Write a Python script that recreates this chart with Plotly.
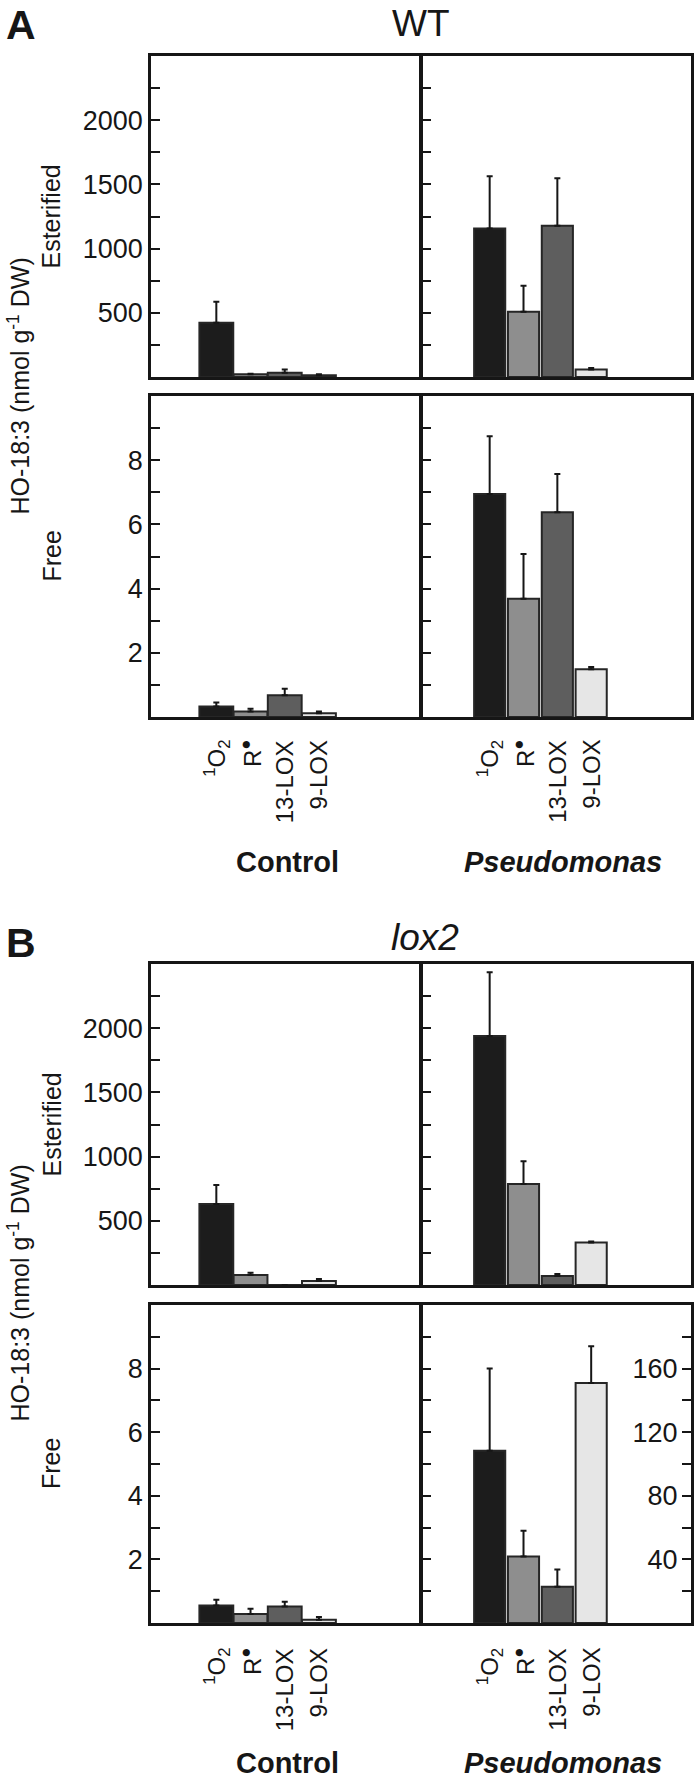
import plotly.graph_objects as go

# ---------------- data ----------------
categories = ["<sup>1</sup>O<sub>2</sub>", "R<sup>●</sup>", "13-LOX", "9-LOX"]
conditions = ["Control", "Pseudomonas"]

wt_est_control = [422, 21, 34, 13]
wt_est_control_err = [164, 5, 24, 8]
wt_est_pseudo = [1156, 508, 1177, 58]
wt_est_pseudo_err = [407, 203, 370, 12]

wt_free_control = [0.33, 0.17, 0.68, 0.12]
wt_free_control_err = [0.12, 0.09, 0.20, 0.05]
wt_free_pseudo = [6.95, 3.68, 6.38, 1.49]
wt_free_pseudo_err = [1.80, 1.40, 1.19, 0.07]

lox2_est_control = [630, 78, 0, 31]
lox2_est_control_err = [149, 18, 0, 16]
lox2_est_pseudo = [1940, 787, 70, 331]
lox2_est_pseudo_err = [495, 176, 16, 8]

lox2_free_control = [0.55, 0.28, 0.52, 0.10]
lox2_free_control_err = [0.18, 0.17, 0.15, 0.09]
# first three on left axis (0-10), 9-LOX on right axis (0-200)
lox2_free_pseudo = [5.42, 2.09, 1.14]
lox2_free_pseudo_err = [2.58, 0.81, 0.54]
lox2_free_pseudo_9lox = [151]
lox2_free_pseudo_9lox_err = [23]

est_major = [500, 1000, 1500, 2000]
est_minor = [250, 750, 1250, 1750, 2250]
free_major = [2, 4, 6, 8]
free_minor = [1, 3, 5, 7, 9]
right_major = [40, 80, 120, 160]
right_minor = [20, 60, 100, 140, 180]

bar_colors = ["#1c1c1c", "#8e8e8e", "#5e5e5e", "#e6e6e6"]

# ---------------- layout helpers ----------------
W, H = 697, 1782
FONT = "Liberation Sans, Arial, sans-serif"
INK = "#161616"
LW = 2.5
cols = [(151, 422 - LW), (422, 691)]
rows = [(56, 377), (396, 717), (964, 1285), (1305, 1623)]
xranges = [(-1.91, 5.94), (-2.0, 5.95)]
bar_w = [0.99, 0.92]


def name(kind, k):
    return kind if k == 1 else f"{kind}{k}"


fig = go.Figure()
layout = {}

panel_data = {
    (0, 0): (wt_est_control, wt_est_control_err),
    (0, 1): (wt_est_pseudo, wt_est_pseudo_err),
    (1, 0): (wt_free_control, wt_free_control_err),
    (1, 1): (wt_free_pseudo, wt_free_pseudo_err),
    (2, 0): (lox2_est_control, lox2_est_control_err),
    (2, 1): (lox2_est_pseudo, lox2_est_pseudo_err),
    (3, 0): (lox2_free_control, lox2_free_control_err),
    (3, 1): (lox2_free_pseudo, lox2_free_pseudo_err),
}

tick_font = dict(size=27, color=INK, family=FONT)

for r in range(4):
    for c in range(2):
        k = r * 2 + c + 1
        x0, x1 = cols[c]
        y0, y1 = rows[r]
        est = r in (0, 2)
        layout[name("xaxis", k)] = dict(
            domain=[x0 / W, x1 / W], anchor=name("y", k), range=list(xranges[c]),
            showline=True, mirror=True, linecolor=INK, linewidth=LW,
            ticks="", showticklabels=False, showgrid=False, zeroline=False,
        )
        layout[name("yaxis", k)] = dict(
            domain=[1 - y1 / H, 1 - y0 / H], anchor=name("x", k),
            range=[0, 2500] if est else [0, 10],
            showline=True, mirror=True, linecolor=INK, linewidth=LW,
            ticks="inside", ticklen=9, tickwidth=2, tickcolor=INK,
            tickmode="array", tickvals=est_major if est else free_major,
            minor=dict(tickmode="array", tickvals=est_minor if est else free_minor,
                       ticks="inside", ticklen=9, tickwidth=2, tickcolor=INK, showgrid=False),
            showticklabels=(c == 0),
            tickfont=tick_font,
            showgrid=False, zeroline=False,
        )
        vals, errs = panel_data[(r, c)]
        n = len(vals)
        fig.add_trace(go.Bar(
            x=list(range(n)), y=vals, width=bar_w[c],
            marker=dict(color=bar_colors[:n], line=dict(color="#262626", width=2)),
            error_y=dict(type="data", symmetric=False, array=errs, arrayminus=[0] * n,
                         color=INK, thickness=2, width=3),
            xaxis=name("x", k), yaxis=name("y", k), showlegend=False,
        ))

# right axis for 9-LOX in lox2 free Pseudomonas panel
layout["yaxis9"] = dict(
    overlaying="y8", side="right", anchor="x8", range=[0, 200],
    showline=True, linecolor=INK, linewidth=LW,
    ticks="inside", ticklen=9, tickwidth=2, tickcolor=INK,
    tickmode="array", tickvals=right_major,
    minor=dict(tickmode="array", tickvals=right_minor, ticks="inside",
               ticklen=9, tickwidth=2, tickcolor=INK, showgrid=False),
    ticklabelposition="inside", ticklabelstandoff=7,
    tickfont=tick_font,
    showgrid=False, zeroline=False,
)
fig.add_trace(go.Bar(
    x=[3], y=lox2_free_pseudo_9lox, width=bar_w[1],
    marker=dict(color=bar_colors[3], line=dict(color="#262626", width=2)),
    error_y=dict(type="data", symmetric=False, array=lox2_free_pseudo_9lox_err,
                 arrayminus=[0], color=INK, thickness=2, width=3),
    xaxis="x8", yaxis="y9", showlegend=False,
))

annotations = []


def ann(text, x, y, size, xanchor="center", yanchor="middle", angle=0, xref="paper"):
    annotations.append(dict(
        text=text, x=x, y=y, xref=xref, yref="paper", showarrow=False,
        xanchor=xanchor, yanchor=yanchor, textangle=angle,
        font=dict(size=size, color=INK, family=FONT),
    ))


# part labels and titles
ann("<b>A</b>", 4 / W, 1 - 0 / H, 41, xanchor="left", yanchor="top")
ann("WT", 421 / W, 1 - 1 / H, 37, yanchor="top")
ann("<b>B</b>", 4 / W, 1 - 918 / H, 41, xanchor="left", yanchor="top")
ann("<i>lox2</i>", 425 / W, 1 - 915 / H, 37, yanchor="top")

# y titles
for top, bot_est, free_c in [((56 + 717) / 2, (56 + 377) / 2, (396 + 717) / 2),
                              ((964 + 1623) / 2, (964 + 1285) / 2, (1305 + 1623) / 2)]:
    ann("HO-18:3 (nmol g<sup>-1</sup> DW)", 18 / W, 1 - top / H, 25, angle=-90)
    ann("Esterified", 51 / W, 1 - bot_est / H, 25, angle=-90)
    ann("Free", 51 / W, 1 - free_c / H, 25, angle=-90)

# category labels and condition labels
for r, label_top, cond_y in [(1, 738, 862), (3, 1646, 1763)]:
    for c in range(2):
        k = r * 2 + c + 1
        for i, cat in enumerate(categories):
            ann(cat, i, 1 - label_top / H, 24, yanchor="top", angle=-90, xref=name("x", k))
    ann("<b>" + conditions[0] + "</b>", 287 / W, 1 - cond_y / H, 29)
    ann("<b><i>" + conditions[1] + "</i></b>", 563 / W, 1 - cond_y / H, 29)

fig.update_layout(
    **layout,
    annotations=annotations,
    width=W, height=H,
    margin=dict(l=0, r=0, t=0, b=0),
    paper_bgcolor="white", plot_bgcolor="white",
    barmode="overlay",
    font=dict(family=FONT, color=INK),
)

fig.write_html(
    "out.html",
    config={"displayModeBar": False},
    post_script="document.body.style.margin='0';document.body.style.overflow='hidden';",
)
